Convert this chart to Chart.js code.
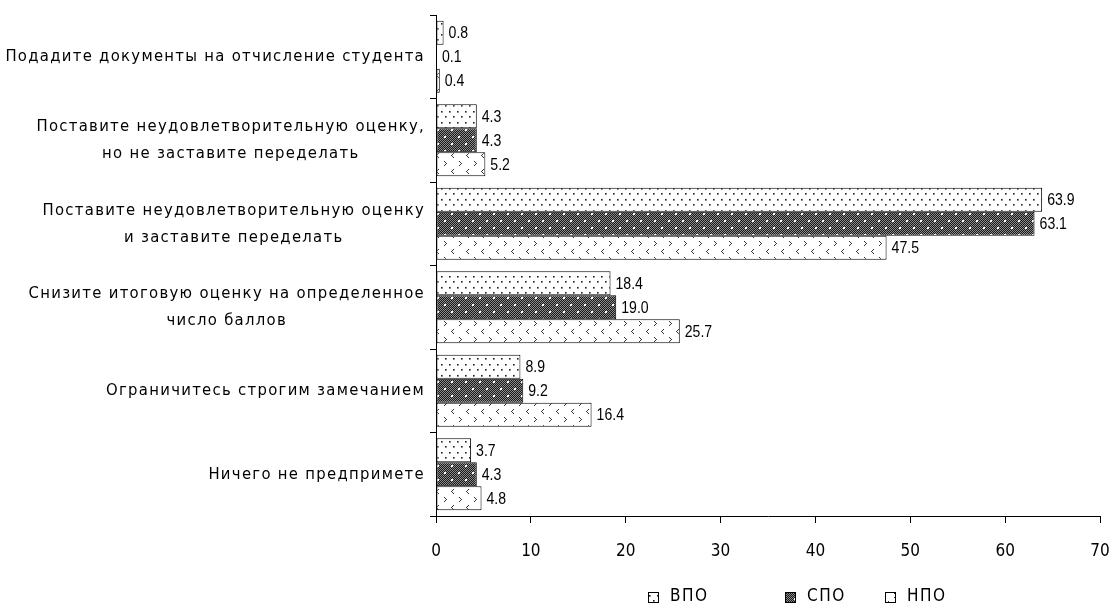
<!DOCTYPE html>
<html>
<head>
<meta charset="utf-8">
<script src="https://cdn.jsdelivr.net/npm/chart.js@4/dist/chart.umd.min.js"></script>
<style>
  html, body { margin: 0; padding: 0; background: #fff; }
  #wrap { width: 1113px; height: 608px; }
</style>
</head>
<body>
<div id="wrap"><canvas id="myChart" width="1113" height="608"></canvas></div>
<script>
var categories = [
  ["Подадите документы на отчисление студента"],
  ["Поставите неудовлетворительную оценку,", "но не заставите переделать"],
  ["Поставите неудовлетворительную оценку", "и заставите переделать"],
  ["Снизите итоговую оценку на определенное", "число баллов"],
  ["Ограничитесь строгим замечанием"],
  ["Ничего не предпримете"]
];
var seriesNames = ["ВПО", "СПО", "НПО"];
var vpo = [0.8, 4.3, 63.9, 18.4, 8.9, 3.7];
var spo = [0.1, 4.3, 63.1, 19.0, 9.2, 4.3];
var npo = [0.4, 5.2, 47.5, 25.7, 16.4, 4.8];
var xTicks = [0, 10, 20, 30, 40, 50, 60, 70];

var labelFont = '"DejaVu Sans Condensed", "DejaVu Sans", sans-serif';
var numFont = '"Liberation Sans", Arial, sans-serif';

function px(g, pts, col) {
  g.fillStyle = col;
  pts.forEach(function(p) { g.fillRect(p[0], p[1], 1, 1); });
}

// hatch fills for the three series
function makePattern(kind) {
  var c = document.createElement('canvas');
  var g = c.getContext('2d');
  if (kind == 'dots') {
    c.width = 8; c.height = 11;
    g.fillStyle = '#fff'; g.fillRect(0, 0, 8, 11);
    px(g, [[1, 1], [5, 6]], '#222');
    px(g, [[2, 1], [1, 2], [6, 6], [5, 7]], '#777');
    px(g, [[2, 2], [6, 7]], '#aaa');
  } else if (kind == 'grey') {
    c.width = 14; c.height = 14;
    for (var x = 0; x < 14; x++) {
      for (var y = 0; y < 14; y++) {
        g.fillStyle = (x + y) % 2 ? '#1a1a1a' : '#8a8a8a';
        g.fillRect(x, y, 1, 1);
      }
    }
    px(g, [[3, 3], [4, 3], [3, 4], [4, 4], [10, 10], [11, 10], [10, 11], [11, 11]], '#fff');
  } else {
    c.width = 15; c.height = 16;
    g.fillStyle = '#fff'; g.fillRect(0, 0, 15, 16);
    // ">" and "<" marks on alternating rows
    px(g, [[9, 1], [10, 2], [11, 3], [10, 4], [9, 5]], '#333');
    px(g, [[3, 9], [2, 10], [1, 11], [2, 12], [3, 13]], '#333');
  }
  return g.createPattern(c, 'repeat');
}

var fills = [makePattern('dots'), makePattern('grey'), makePattern('chev')];

// value printed right of every bar, in a narrowed face
var valueLabels = {
  id: 'valueLabels',
  afterDatasetsDraw: function(chart) {
    var ctx = chart.ctx;
    chart.data.datasets.forEach(function(ds, i) {
      chart.getDatasetMeta(i).data.forEach(function(bar, j) {
        ctx.save();
        ctx.translate(bar.x + 5, bar.y + 1);
        ctx.scale(0.88, 1);
        ctx.font = '16px ' + numFont;
        ctx.fillStyle = '#000';
        ctx.textAlign = 'left';
        ctx.textBaseline = 'middle';
        ctx.fillText(ds.data[j].toFixed(1), 0, 0);
        ctx.restore();
      });
    });
  }
};

// category names: block right aligned, lines centered inside the block
var categoryLabels = {
  id: 'categoryLabels',
  afterDraw: function(chart) {
    var ctx = chart.ctx;
    var yScale = chart.scales.y;
    var right = chart.chartArea.left - 11;
    ctx.save();
    ctx.font = '16.5px ' + labelFont;
    ctx.letterSpacing = '1.3px';
    ctx.fillStyle = '#000';
    ctx.textAlign = 'center';
    ctx.textBaseline = 'middle';
    var lh = 27;
    categories.forEach(function(lines, i) {
      var w = 0;
      lines.forEach(function(l) { w = Math.max(w, ctx.measureText(l).width); });
      var cx = right - w / 2;
      var cy = yScale.getPixelForValue(i);
      lines.forEach(function(l, k) {
        ctx.fillText(l, cx, cy + (k - (lines.length - 1) / 2) * lh);
      });
    });
    ctx.restore();
  }
};

// legend under the value axis
var legendOffsets = [212, 349, 449];
var bottomLegend = {
  id: 'bottomLegend',
  afterDraw: function(chart) {
    var ctx = chart.ctx;
    var y = 597;
    ctx.save();
    ctx.font = '17px ' + labelFont;
    ctx.letterSpacing = '1.5px';
    ctx.textBaseline = 'middle';
    ctx.textAlign = 'left';
    chart.data.datasets.forEach(function(ds, i) {
      var x = chart.chartArea.left + legendOffsets[i];
      ctx.fillStyle = ds.backgroundColor;
      ctx.fillRect(x, y - 5, 11, 11);
      ctx.strokeStyle = '#000';
      ctx.lineWidth = 1;
      ctx.strokeRect(x + 0.5, y - 4.5, 10, 10);
      ctx.fillStyle = '#000';
      ctx.fillText(ds.label, x + 22, y);
    });
    ctx.restore();
  }
};

var datasets = [vpo, spo, npo].map(function(d, i) {
  return {
    label: seriesNames[i],
    data: d,
    backgroundColor: fills[i],
    borderColor: '#000',
    borderWidth: 1,
    borderSkipped: false,
    categoryPercentage: 0.86,
    barPercentage: 1.0
  };
});

var ctx = document.getElementById('myChart').getContext('2d');
var mychart = new Chart(ctx, {
  type: 'bar',
  data: {
    labels: categories,
    datasets: datasets
  },
  options: {
    indexAxis: 'y',
    responsive: false,
    animation: false,
    layout: { padding: { top: 15, right: 0, left: 0, bottom: 0 } },
    plugins: {
      legend: { display: false },
      tooltip: { enabled: false }
    },
    scales: {
      x: {
        min: 0,
        max: 70,
        afterBuildTicks: function(scale) {
          scale.ticks = xTicks.map(function(v) { return { value: v }; });
        },
        afterFit: function(scale) {
          scale.height = 92;
          scale.paddingRight = 13;
          scale.paddingLeft = 0;
        },
        grid: { drawOnChartArea: false, drawTicks: true, tickLength: 7, color: '#000' },
        border: { color: '#000', width: 1 },
        ticks: {
          color: '#000',
          padding: 18,
          font: { family: labelFont, size: 17 }
        }
      },
      y: {
        offset: true,
        afterFit: function(scale) { scale.width = 436; },
        grid: { offset: true, drawOnChartArea: false, drawTicks: true, tickLength: 6, color: '#000' },
        border: { color: '#000', width: 1 },
        ticks: { display: false }
      }
    }
  },
  plugins: [valueLabels, categoryLabels, bottomLegend]
});
</script>
</body>
</html>
